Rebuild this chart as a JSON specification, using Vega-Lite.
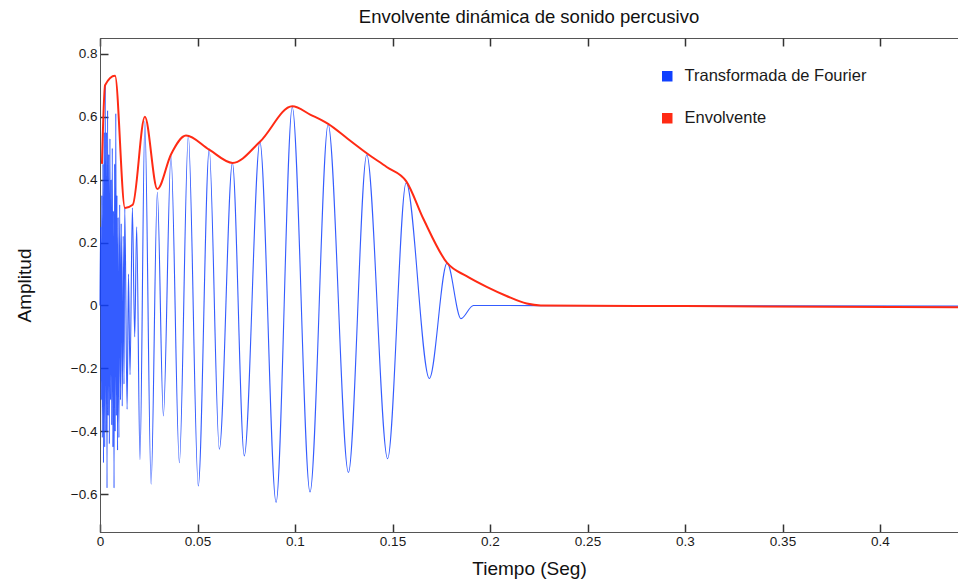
{
  "$schema": "https://vega.github.io/schema/vega-lite/v6.json",
  "width": 858,
  "height": 494,
  "autosize": {"type": "none"},
  "padding": {"left": 100, "top": 38, "right": 0, "bottom": 48},
  "background": "white",
  "config": {
    "font": "Liberation Sans",
    "view": {"stroke": "#555555", "strokeWidth": 1},
    "axis": {
      "grid": false,
      "zindex": 1,
      "domainColor": "#555555",
      "labelColor": "#1a1a1a",
      "titleColor": "#111111",
      "labelFont": "Liberation Sans",
      "titleFont": "Liberation Sans",
      "labelFontSize": 13.5,
      "titleFontSize": 19,
      "titleFontWeight": "normal"
    }
  },
  "title": {
    "text": "Envolvente dinámica de sonido percusivo",
    "fontSize": 18.5,
    "fontWeight": "normal",
    "font": "Liberation Sans",
    "color": "#111111",
    "anchor": "middle",
    "offset": 11
  },
  "data": {
    "values": [
      {"serie": "Transformada de Fourier", "t": 0.0, "a": 0.0},
      {"serie": "Transformada de Fourier", "t": 0.0003, "a": 0.25},
      {"serie": "Transformada de Fourier", "t": 0.0006, "a": -0.3},
      {"serie": "Transformada de Fourier", "t": 0.0009, "a": 0.35},
      {"serie": "Transformada de Fourier", "t": 0.0012, "a": -0.42},
      {"serie": "Transformada de Fourier", "t": 0.0015, "a": 0.45},
      {"serie": "Transformada de Fourier", "t": 0.0018, "a": -0.5},
      {"serie": "Transformada de Fourier", "t": 0.0021, "a": 0.55},
      {"serie": "Transformada de Fourier", "t": 0.0024, "a": -0.45},
      {"serie": "Transformada de Fourier", "t": 0.0027, "a": 0.7},
      {"serie": "Transformada de Fourier", "t": 0.003, "a": -0.4},
      {"serie": "Transformada de Fourier", "t": 0.0033, "a": 0.55},
      {"serie": "Transformada de Fourier", "t": 0.0036, "a": -0.58},
      {"serie": "Transformada de Fourier", "t": 0.0039, "a": 0.62},
      {"serie": "Transformada de Fourier", "t": 0.0042, "a": -0.35},
      {"serie": "Transformada de Fourier", "t": 0.0045, "a": 0.48},
      {"serie": "Transformada de Fourier", "t": 0.0048, "a": -0.44},
      {"serie": "Transformada de Fourier", "t": 0.0051, "a": 0.53},
      {"serie": "Transformada de Fourier", "t": 0.0054, "a": -0.3},
      {"serie": "Transformada de Fourier", "t": 0.0057, "a": 0.4},
      {"serie": "Transformada de Fourier", "t": 0.006, "a": -0.38},
      {"serie": "Transformada de Fourier", "t": 0.0063, "a": 0.5},
      {"serie": "Transformada de Fourier", "t": 0.0066, "a": -0.45},
      {"serie": "Transformada de Fourier", "t": 0.0069, "a": 0.3},
      {"serie": "Transformada de Fourier", "t": 0.0072, "a": -0.58},
      {"serie": "Transformada de Fourier", "t": 0.0075, "a": 0.45},
      {"serie": "Transformada de Fourier", "t": 0.0078, "a": -0.4},
      {"serie": "Transformada de Fourier", "t": 0.0081, "a": 0.61},
      {"serie": "Transformada de Fourier", "t": 0.0084, "a": -0.35},
      {"serie": "Transformada de Fourier", "t": 0.0087, "a": 0.35},
      {"serie": "Transformada de Fourier", "t": 0.009, "a": -0.46},
      {"serie": "Transformada de Fourier", "t": 0.0093, "a": 0.28},
      {"serie": "Transformada de Fourier", "t": 0.0097, "a": -0.42},
      {"serie": "Transformada de Fourier", "t": 0.0101, "a": 0.32},
      {"serie": "Transformada de Fourier", "t": 0.0105, "a": -0.3},
      {"serie": "Transformada de Fourier", "t": 0.0109, "a": 0.26},
      {"serie": "Transformada de Fourier", "t": 0.0114, "a": -0.32},
      {"serie": "Transformada de Fourier", "t": 0.0119, "a": 0.22},
      {"serie": "Transformada de Fourier", "t": 0.0123, "a": -0.25},
      {"serie": "Transformada de Fourier", "t": 0.0127, "a": 0.31},
      {"serie": "Transformada de Fourier", "t": 0.0139, "a": -0.33},
      {"serie": "Transformada de Fourier", "t": 0.0146, "a": 0.1},
      {"serie": "Transformada de Fourier", "t": 0.0154, "a": -0.22},
      {"serie": "Transformada de Fourier", "t": 0.0166, "a": 0.31},
      {"serie": "Transformada de Fourier", "t": 0.0178, "a": -0.1},
      {"serie": "Transformada de Fourier", "t": 0.0188, "a": 0.25},
      {"serie": "Transformada de Fourier", "t": 0.0205, "a": -0.49},
      {"serie": "Transformada de Fourier", "t": 0.023, "a": 0.585},
      {"serie": "Transformada de Fourier", "t": 0.0262, "a": -0.568},
      {"serie": "Transformada de Fourier", "t": 0.0294, "a": 0.36},
      {"serie": "Transformada de Fourier", "t": 0.0325, "a": -0.351},
      {"serie": "Transformada de Fourier", "t": 0.0364, "a": 0.476},
      {"serie": "Transformada de Fourier", "t": 0.0407, "a": -0.5},
      {"serie": "Transformada de Fourier", "t": 0.0453, "a": 0.54},
      {"serie": "Transformada de Fourier", "t": 0.0504, "a": -0.574},
      {"serie": "Transformada de Fourier", "t": 0.056, "a": 0.497},
      {"serie": "Transformada de Fourier", "t": 0.0612, "a": -0.457},
      {"serie": "Transformada de Fourier", "t": 0.0679, "a": 0.453},
      {"serie": "Transformada de Fourier", "t": 0.074, "a": -0.478},
      {"serie": "Transformada de Fourier", "t": 0.082, "a": 0.52},
      {"serie": "Transformada de Fourier", "t": 0.0903, "a": -0.626},
      {"serie": "Transformada de Fourier", "t": 0.0986, "a": 0.63},
      {"serie": "Transformada de Fourier", "t": 0.1077, "a": -0.593},
      {"serie": "Transformada de Fourier", "t": 0.117, "a": 0.575},
      {"serie": "Transformada de Fourier", "t": 0.1274, "a": -0.531},
      {"serie": "Transformada de Fourier", "t": 0.1368, "a": 0.479},
      {"serie": "Transformada de Fourier", "t": 0.1475, "a": -0.487},
      {"serie": "Transformada de Fourier", "t": 0.157, "a": 0.39},
      {"serie": "Transformada de Fourier", "t": 0.1689, "a": -0.232},
      {"serie": "Transformada de Fourier", "t": 0.178, "a": 0.135},
      {"serie": "Transformada de Fourier", "t": 0.1851, "a": -0.042},
      {"serie": "Transformada de Fourier", "t": 0.1915, "a": 0.0},
      {"serie": "Transformada de Fourier", "t": 0.25, "a": -0.001},
      {"serie": "Transformada de Fourier", "t": 0.44, "a": -0.002},
      {"serie": "Envolvente", "t": 0.001, "a": 0.45},
      {"serie": "Envolvente", "t": 0.0026, "a": 0.7},
      {"serie": "Envolvente", "t": 0.0077, "a": 0.73},
      {"serie": "Envolvente", "t": 0.0128, "a": 0.31},
      {"serie": "Envolvente", "t": 0.0168, "a": 0.32},
      {"serie": "Envolvente", "t": 0.023, "a": 0.6},
      {"serie": "Envolvente", "t": 0.0294, "a": 0.37},
      {"serie": "Envolvente", "t": 0.0364, "a": 0.48},
      {"serie": "Envolvente", "t": 0.0441, "a": 0.54},
      {"serie": "Envolvente", "t": 0.056, "a": 0.495},
      {"serie": "Envolvente", "t": 0.068, "a": 0.453},
      {"serie": "Envolvente", "t": 0.082, "a": 0.52},
      {"serie": "Envolvente", "t": 0.0986, "a": 0.633},
      {"serie": "Envolvente", "t": 0.108, "a": 0.606},
      {"serie": "Envolvente", "t": 0.117, "a": 0.577},
      {"serie": "Envolvente", "t": 0.127, "a": 0.53},
      {"serie": "Envolvente", "t": 0.137, "a": 0.483},
      {"serie": "Envolvente", "t": 0.147, "a": 0.44},
      {"serie": "Envolvente", "t": 0.157, "a": 0.395},
      {"serie": "Envolvente", "t": 0.166, "a": 0.273},
      {"serie": "Envolvente", "t": 0.178, "a": 0.135},
      {"serie": "Envolvente", "t": 0.188, "a": 0.093},
      {"serie": "Envolvente", "t": 0.1983, "a": 0.059},
      {"serie": "Envolvente", "t": 0.2085, "a": 0.03},
      {"serie": "Envolvente", "t": 0.2188, "a": 0.006},
      {"serie": "Envolvente", "t": 0.226, "a": 0.0},
      {"serie": "Envolvente", "t": 0.3, "a": -0.002},
      {"serie": "Envolvente", "t": 0.44, "a": -0.006}
    ]
  },
  "encoding": {
    "x": {
      "field": "t",
      "type": "quantitative",
      "scale": {"domain": [0, 0.44], "nice": false, "zero": false},
      "axis": {
        "title": "Tiempo (Seg)",
        "values": [0, 0.05, 0.1, 0.15, 0.2, 0.25, 0.3, 0.35, 0.4],
        "format": "~g",
        "ticks": true,
        "tickSize": -8,
        "tickWidth": 1.5,
        "tickColor": "#333333",
        "labelPadding": 10,
        "titlePadding": 12,
        "labelFlush": false
      }
    },
    "y": {
      "field": "a",
      "type": "quantitative",
      "scale": {"domain": [-0.72, 0.85], "nice": false, "zero": false},
      "axis": {
        "title": "Amplitud",
        "values": [-0.6, -0.4, -0.2, 0, 0.2, 0.4, 0.6, 0.8],
        "format": "~g",
        "ticks": true,
        "tickSize": -8,
        "tickWidth": 1.5,
        "tickColor": "#333333",
        "labelPadding": 11,
        "titlePadding": 36,
        "labelFlush": false
      }
    },
    "color": {
      "field": "serie",
      "type": "nominal",
      "scale": {
        "domain": ["Transformada de Fourier", "Envolvente"],
        "range": ["#1040ff", "#ff2a14"]
      },
      "legend": {
        "title": null,
        "orient": "none",
        "legendX": 559,
        "legendY": 30,
        "symbolType": "square",
        "symbolSize": 110,
        "symbolStrokeWidth": 0,
        "labelFontSize": 16.5,
        "labelFont": "Liberation Sans",
        "labelColor": "#1a1a1a",
        "labelLimit": 400,
        "rowPadding": 25,
        "labelOffset": 9,
        "encode": {
          "symbols": {"update": {"fill": {"scale": "color", "field": "value"}, "opacity": {"value": 1}}}
        }
      }
    }
  },
  "layer": [
    {
      "transform": [{"filter": "datum.serie === 'Transformada de Fourier'"}],
      "mark": {"type": "line", "interpolate": "monotone", "strokeWidth": 1.1, "opacity": 0.85}
    },
    {
      "transform": [{"filter": "datum.serie === 'Envolvente'"}],
      "mark": {"type": "line", "interpolate": "monotone", "strokeWidth": 2},
      "encoding": {
        "x": {
          "field": "t",
          "type": "quantitative",
          "axis": {
            "orient": "top",
            "title": null,
            "labels": false,
            "domain": false,
            "ticks": true,
            "values": [0, 0.05, 0.1, 0.15, 0.2, 0.25, 0.3, 0.35, 0.4],
            "tickSize": -8,
            "tickWidth": 1.5,
            "tickColor": "#333333"
          }
        }
      }
    }
  ],
  "resolve": {"axis": {"x": "independent"}}
}
